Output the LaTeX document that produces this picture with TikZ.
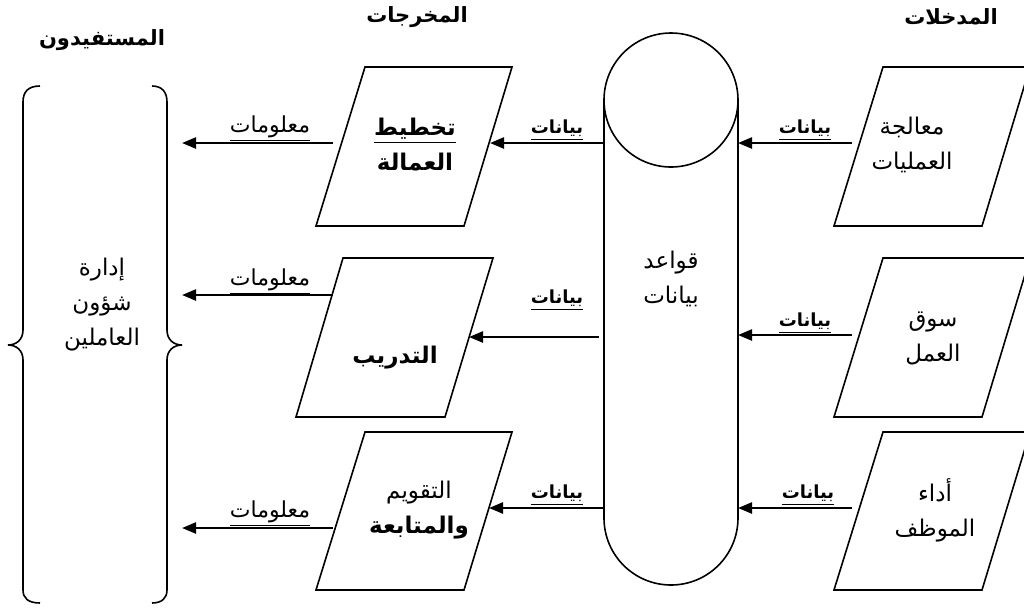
\documentclass[tikz,border=0pt]{standalone}
\usepackage{fontspec}
\newfontfamily\arfont[Script=Arabic]{DejaVu Sans}
\TeXXeTstate=1
\usetikzlibrary{arrows.meta}
\newcommand{\AR}[1]{{\arfont\beginR #1\endR}}
\newcommand{\ARu}[1]{\underline{\AR{#1}}}
\begin{document}
\begin{tikzpicture}[x=0.5pt,y=-0.5pt,
  txt/.style={font=\arfont\fontsize{11.5}{17.5}\selectfont, align=center, inner sep=0pt},
  hdr/.style={font=\arfont\bfseries\fontsize{10.5}{17.5}\selectfont, inner sep=0pt},
  lbl/.style={font=\arfont\bfseries\fontsize{9}{12}\selectfont, inner sep=0pt},
  lbln/.style={font=\arfont\fontsize{11}{12}\selectfont, inner sep=0pt},
  shp/.style={draw, line width=0.8pt},
  arr/.style={-{Triangle[length=7pt,width=5.5pt]}, line width=1.2pt}]
\useasboundingbox (0,0) rectangle (1024,607);
\clip (0,0) rectangle (1024,607);
% headers
\node[hdr] (hb) at (102,40) {\AR{المستفيدون}};
\node[hdr] (ho) at (417,17) {\AR{المخرجات}};
\node[hdr] (hi) at (951,17) {\AR{المدخلات}};
% braces
\draw[shp] (40,86) .. controls (28,86) and (23,92) .. (23,102) -- (23,330)
  .. controls (23,340) and (16,345) .. (8,345) .. controls (16,345) and (23,350) .. (23,360)
  -- (23,590) .. controls (23,598) and (28,603) .. (40,603);
\draw[shp] (152,86) .. controls (162,86) and (167,92) .. (167,102) -- (167,330)
  .. controls (167,340) and (174,345) .. (182,345) .. controls (174,345) and (167,350) .. (167,360)
  -- (167,590) .. controls (167,598) and (162,603) .. (152,603);
\node[txt] (hr) at (102,305) {\AR{إدارة}\\\AR{شؤون}\\\AR{العاملين}};
% output parallelograms
\draw[shp] (365,67) -- (512,67) -- (464,226) -- (316,226) -- cycle;
\node[txt] (o1) at (415,145) {\bfseries\ARu{تخطيط}\\\bfseries\AR{العمالة}};
\draw[shp] (343,258) -- (493,258) -- (445,417) -- (296,417) -- cycle;
\node[txt] (o2) at (395,358) {\bfseries\AR{التدريب}};
\draw[shp] (365,432) -- (512,432) -- (464,590) -- (316,590) -- cycle;
\node[txt] (o3) at (419,510) {\AR{التقويم}\\\bfseries\AR{والمتابعة}};
% input parallelograms
\draw[shp] (883,67) -- (1030,67) -- (982,226) -- (834,226) -- cycle;
\node[txt] (i1) at (912,145) {\AR{معالجة}\\\AR{العمليات}};
\draw[shp] (883,258) -- (1030,258) -- (982,417) -- (834,417) -- cycle;
\node[txt] (i2) at (933,338) {\AR{سوق}\\\AR{العمل}};
\draw[shp] (883,432) -- (1030,432) -- (982,590) -- (834,590) -- cycle;
\node[txt] (i3) at (935,510) {\AR{أداء}\\\AR{الموظف}};
% database
\draw[shp] (671,100) circle[radius=67];
\draw[shp] (604,100) -- (604,518) arc[start angle=180, end angle=0, radius=67] -- (738,100);
\node[txt] (db) at (671,279) {\AR{قواعد}\\\AR{بيانات}};
% connector end points
\coordinate (i1o) at (852,143); \coordinate (i2o) at (852,335); \coordinate (i3o) at (852,508);
\coordinate (dbr1) at (738,143); \coordinate (dbr2) at (738,335); \coordinate (dbr3) at (738,508);
\coordinate (dbl1) at (603,143); \coordinate (dbl2) at (599,337); \coordinate (dbl3) at (603,508);
\coordinate (o1r) at (490,143); \coordinate (o2r) at (469,337); \coordinate (o3r) at (489,508);
\coordinate (o1l) at (333,143); \coordinate (o2l) at (333,295); \coordinate (o3l) at (333,528);
\coordinate (hr1) at (182,143); \coordinate (hr2) at (182,295); \coordinate (hr3) at (182,528);
% arrows
\draw[arr] (i1o) -- (dbr1);
\draw[arr] (i2o) -- (dbr2);
\draw[arr] (i3o) -- (dbr3);
\draw[arr] (dbl1) -- (o1r);
\draw[arr] (dbl2) -- (o2r);
\draw[arr] (dbl3) -- (o3r);
\draw[arr] (o1l) -- (hr1);
\draw[arr] (o2l) -- (hr2);
\draw[arr] (o3l) -- (hr3);
% labels
\node[lbl] (l1) at (805,130) {\ARu{بيانات}};
\node[lbl] (l2) at (805,323) {\ARu{بيانات}};
\node[lbl] (l3) at (808,495) {\ARu{بيانات}};
\node[lbl] (l4) at (557,130) {\ARu{بيانات}};
\node[lbl] (l5) at (557,300) {\ARu{بيانات}};
\node[lbl] (l6) at (557,495) {\ARu{بيانات}};
\node[lbln] (m1) at (270,129) {\ARu{معلومات}};
\node[lbln] (m2) at (270,282) {\ARu{معلومات}};
\node[lbln] (m3) at (270,514) {\ARu{معلومات}};
\end{tikzpicture}
\end{document}
